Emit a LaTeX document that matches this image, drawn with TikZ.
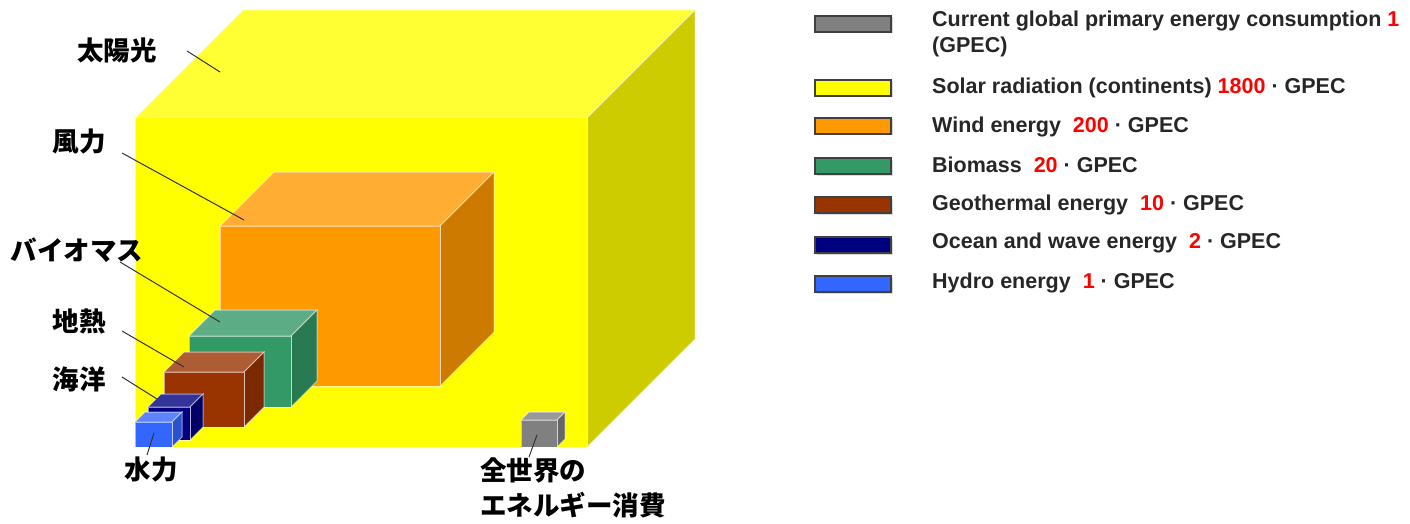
\documentclass[tikz,border=0pt]{standalone}
\usepackage{fontspec}
\setmainfont{Liberation Sans}
\newfontfamily\jfont{Noto Sans CJK JP}
\usepackage{tikz}
\usetikzlibrary{shadows}

\definecolor{solar}{HTML}{FFFF00}
\definecolor{wind}{HTML}{FF9900}
\definecolor{bio}{HTML}{339966}
\definecolor{geo}{HTML}{993300}
\definecolor{sea}{HTML}{000080}
\definecolor{hydro}{HTML}{3366FF}
\definecolor{gpec}{HTML}{808080}

\begin{document}
\begin{tikzpicture}[x=1pt, y=-1pt,
  face/.style={draw=white, draw opacity=.55, line width=1pt},
  jlabel/.style={font=\jfont\bfseries\fontsize{26.5}{35}\selectfont, inner sep=0pt},
  leader/.style={draw=black!80, line width=1pt},
  swatch/.style={draw=black!75, line width=1.6pt, minimum width=76pt, minimum height=16pt, inner sep=0pt,
    drop shadow={shadow xshift=1.5pt, shadow yshift=-1.5pt, opacity=.3}},
  legtext/.style={font=\bfseries\fontsize{21.5}{26}\selectfont, text=black!85, anchor=west, inner sep=0pt, align=left}]
  \useasboundingbox (0,0) rectangle (1410,524);

  % cubes, back to front
  \foreach \n/\x/\y/\w/\h/\d/\c in {sun/135/118/452/329/108/solar, wind/220/226/220/160/54/wind,
      bio/189/336/102/71/26/bio, geo/164/372/80/55/20/geo, sea/148/407/42/33/13/sea,
      hyd/135/422/37/25/10/hydro, use/521/420/36/27/8/gpec}{
    \path[face, fill=\c!80!white] (\x,\y) -- ++(\d,-\d) -- ++(\w,0) -- ++(-\d,\d) -- cycle;
    \path[face, fill=\c!80!black] (\x+\w,\y) -- ++(\d,-\d) -- ++(0,\h) -- ++(-\d,\d) -- cycle;
    \path[face, fill=\c] (\x,\y) rectangle ++(\w,\h);
  }

  \coordinate (sun-p) at (220,72);
  \coordinate (wind-p) at (244,220);
  \coordinate (bio-p) at (220,322);
  \coordinate (geo-p) at (184,367);
  \coordinate (sea-p) at (157,399);
  \coordinate (hyd-p) at (154,433);
  \coordinate (use-p) at (537,435);

  \node[jlabel] (sun) at (117,50) {太陽光};
  \node[jlabel] (wind) at (79,142) {風力};
  \node[jlabel] (bio) at (77,250) {バイオマス};
  \node[jlabel] (geo) at (79,321) {地熱};
  \node[jlabel] (sea) at (79,379) {海洋};
  \node[jlabel] (hyd) at (151,470) {水力};
  \node[jlabel, align=left] (use) at (573,488) {全世界の\\エネルギー消費};

  \draw[leader] (sun) ++(70,1) -- (sun-p);
  \draw[leader] (wind) ++(43,11) -- (wind-p);
  \draw[leader] (bio) ++(43,12) -- (bio-p);
  \draw[leader] (geo) ++(43,10) -- (geo-p);
  \draw[leader] (sea) ++(43,-2) -- (sea-p);
  \draw[leader] (hyd) ++(-4,-15) -- (hyd-p);
  \draw[leader] (use) ++(-44,-31) -- (use-p);

  % legend
  \node[swatch, fill=gpec] (k-use) at (853,24) {};
  \node[swatch, fill=solar] (k-sun) at (853,88) {};
  \node[swatch, fill=wind] (k-wind) at (853,126) {};
  \node[swatch, fill=bio] (k-bio) at (853,166) {};
  \node[swatch, fill=geo] (k-geo) at (853,205) {};
  \node[swatch, fill=sea] (k-sea) at (853,245) {};
  \node[swatch, fill=hydro] (k-hyd) at (853,284) {};

  \node[legtext] (t-use) at (932,34) {Current global primary energy consumption {\color{red}1}\\(GPEC)};
  \node[legtext] (t-sun) at (932,88) {Solar radiation (continents) {\color{red}1800} · GPEC};
  \node[legtext] (t-wind) at (932,127) {Wind energy\ \ {\color{red}200} · GPEC};
  \node[legtext] (t-bio) at (932,165) {Biomass\ \ {\color{red}20} · GPEC};
  \node[legtext] (t-geo) at (932,205) {Geothermal energy\ \ {\color{red}10} · GPEC};
  \node[legtext] (t-sea) at (932,243) {Ocean and wave energy\ \ {\color{red}2} · GPEC};
  \node[legtext] (t-hyd) at (932,283) {Hydro energy\ \ {\color{red}1} · GPEC};
\end{tikzpicture}
\end{document}
